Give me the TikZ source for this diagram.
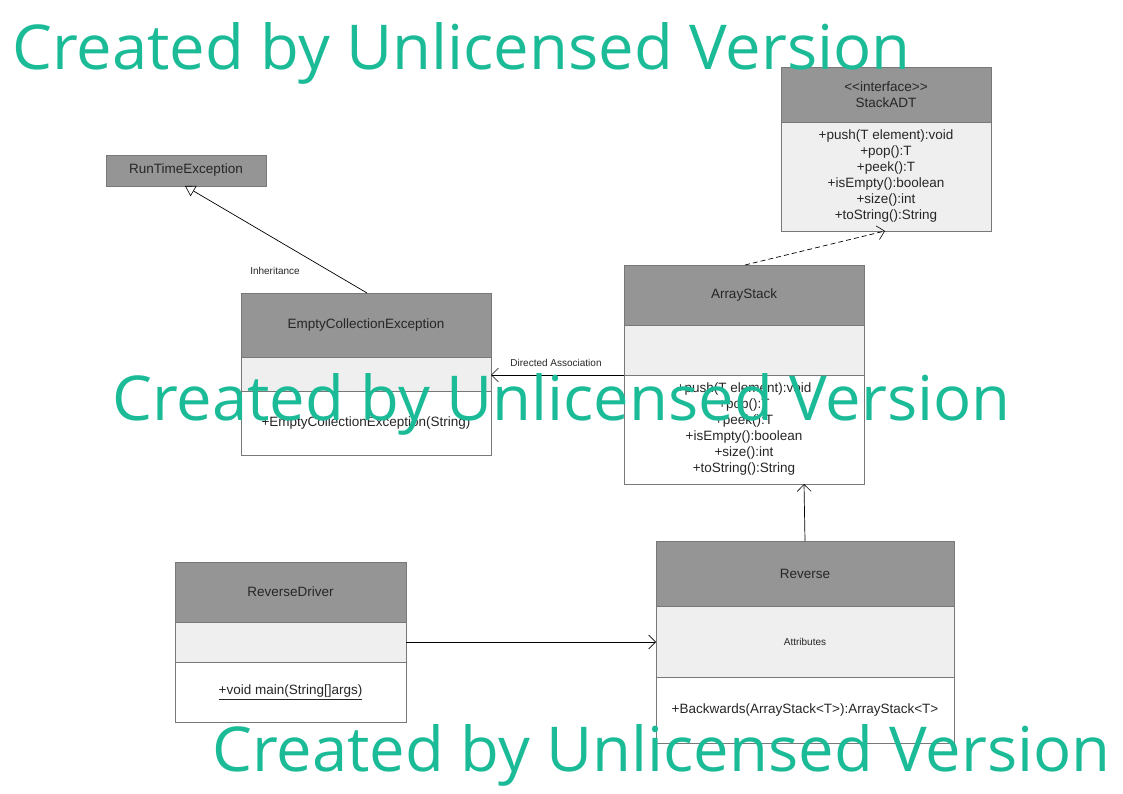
\documentclass[tikz,border=0pt]{standalone}
\usepackage{fontspec}
\setmainfont{Liberation Sans}[Ligatures=NoCommon]
\newfontfamily\wmfont{Open Sans}
\usetikzlibrary{arrows.meta,calc}
\definecolor{hdrgray}{RGB}{149,149,149}
\definecolor{lightgray}{RGB}{239,239,239}
\definecolor{bordergray}{RGB}{120,120,120}
\definecolor{wmgreen}{RGB}{27,187,151}
\tikzset{
  comp/.style={draw=bordergray, line width=0.8pt, inner sep=0pt, outer sep=0pt, anchor=north west, align=center,
    font=\fontsize{13.5}{16}\selectfont, text=black!85},
  hdr/.style={comp, fill=hdrgray},
  mid/.style={comp, fill=lightgray},
  low/.style={comp, fill=white},
  lbl/.style={font=\fontsize{10}{12}\selectfont, text=black!85, inner sep=0pt},
  conn/.style={line width=0.7pt, draw=black},
  openarrow/.style={-{Straight Barb[length=7pt,width=14pt,line width=0.6pt]}},
  inherit/.style={-{Triangle[open,length=10pt,width=12pt,line width=0.6pt]}},
  wm/.style={anchor=base west, inner sep=0pt, text=wmgreen}
}
\begin{document}
\begin{tikzpicture}[x=1pt,y=-1pt]
\useasboundingbox (0,0) rectangle (1123,794);
\fill[white] (0,0) rectangle (1123,794);

% StackADT
\node[hdr, minimum width=210pt, minimum height=55pt] (sH) at (781,67) {\textless{}\textless{}interface\textgreater{}\textgreater{}\\StackADT};
\node[mid, minimum width=210pt, minimum height=109pt] (sB) at (781,122) {+push(T element):void\\+pop():T\\+peek():T\\+isEmpty():boolean\\+size():int\\+toString():String};

% RunTimeException
\node[hdr, minimum width=160pt, minimum height=31pt] (rte) at (106,155) {RunTimeException};

% EmptyCollectionException
\node[hdr, minimum width=250pt, minimum height=64pt] (ecH) at (241,293) {EmptyCollectionException};
\node[mid, minimum width=250pt, minimum height=34pt] (ecM) at (241,357) {};
\node[low, minimum width=250pt, minimum height=64pt] (ecB) at (241,391) {+EmptyCollectionException(String)};

% ArrayStack
\node[hdr, minimum width=240pt, minimum height=60pt] (asH) at (624,265) {ArrayStack};
\node[mid, minimum width=240pt, minimum height=50pt] (asM) at (624,325) {};
\node[low, minimum width=240pt, minimum height=109pt] (asB) at (624,375) {+push(T element):void\\+pop():T\\+peek():T\\+isEmpty():boolean\\+size():int\\+toString():String};

% Reverse
\node[hdr, minimum width=298pt, minimum height=65pt] (rvH) at (656,541) {Reverse};
\node[mid, minimum width=298pt, minimum height=71pt, font=\fontsize{10}{12}\selectfont] (rvM) at (656,606) {Attributes};
\node[low, minimum width=298pt, minimum height=66pt] (rvB) at (656,677) {+Backwards(ArrayStack\textless{}T\textgreater{}):ArrayStack\textless{}T\textgreater{}};

% ReverseDriver
\node[hdr, minimum width=231pt, minimum height=60pt] (rdH) at (175,562) {ReverseDriver};
\node[mid, minimum width=231pt, minimum height=40pt] (rdM) at (175,622) {};
\node[low, minimum width=231pt, minimum height=60pt] (rdB) at (175,662) {\underline{+void main(String[]args)}};

% connectors
\draw[conn, inherit] ([xshift=126pt]ecH.north west) -- ([xshift=79pt]rte.south west);
\node[lbl] (inhlbl) at (275,271) {Inheritance};

\draw[conn, dashed, dash pattern=on 5pt off 3pt, openarrow] ([xshift=121pt]asH.north west) -- ([xshift=104pt]sB.south west);

\draw[conn, openarrow] (asB.north west) -- (asB.north west -| ecM.east);
\node[lbl] (dalbl) at (556,363) {Directed Association};

\draw[conn, openarrow] ([xshift=149pt]rvH.north west) -- ([xshift=180pt]asB.south west);

\draw[conn, openarrow] (rdM.east) -- (rdM.east -| rvM.west);

% watermarks
\node[wm] (wm1) at (12,70) {\resizebox{898pt}{47pt}{\wmfont Created by Unlicensed Version}};
\node[wm] (wm2) at (112,420) {\resizebox{898pt}{47pt}{\wmfont Created by Unlicensed Version}};
\node[wm] (wm3) at (212,771) {\resizebox{898pt}{47pt}{\wmfont Created by Unlicensed Version}};
\end{tikzpicture}
\end{document}
